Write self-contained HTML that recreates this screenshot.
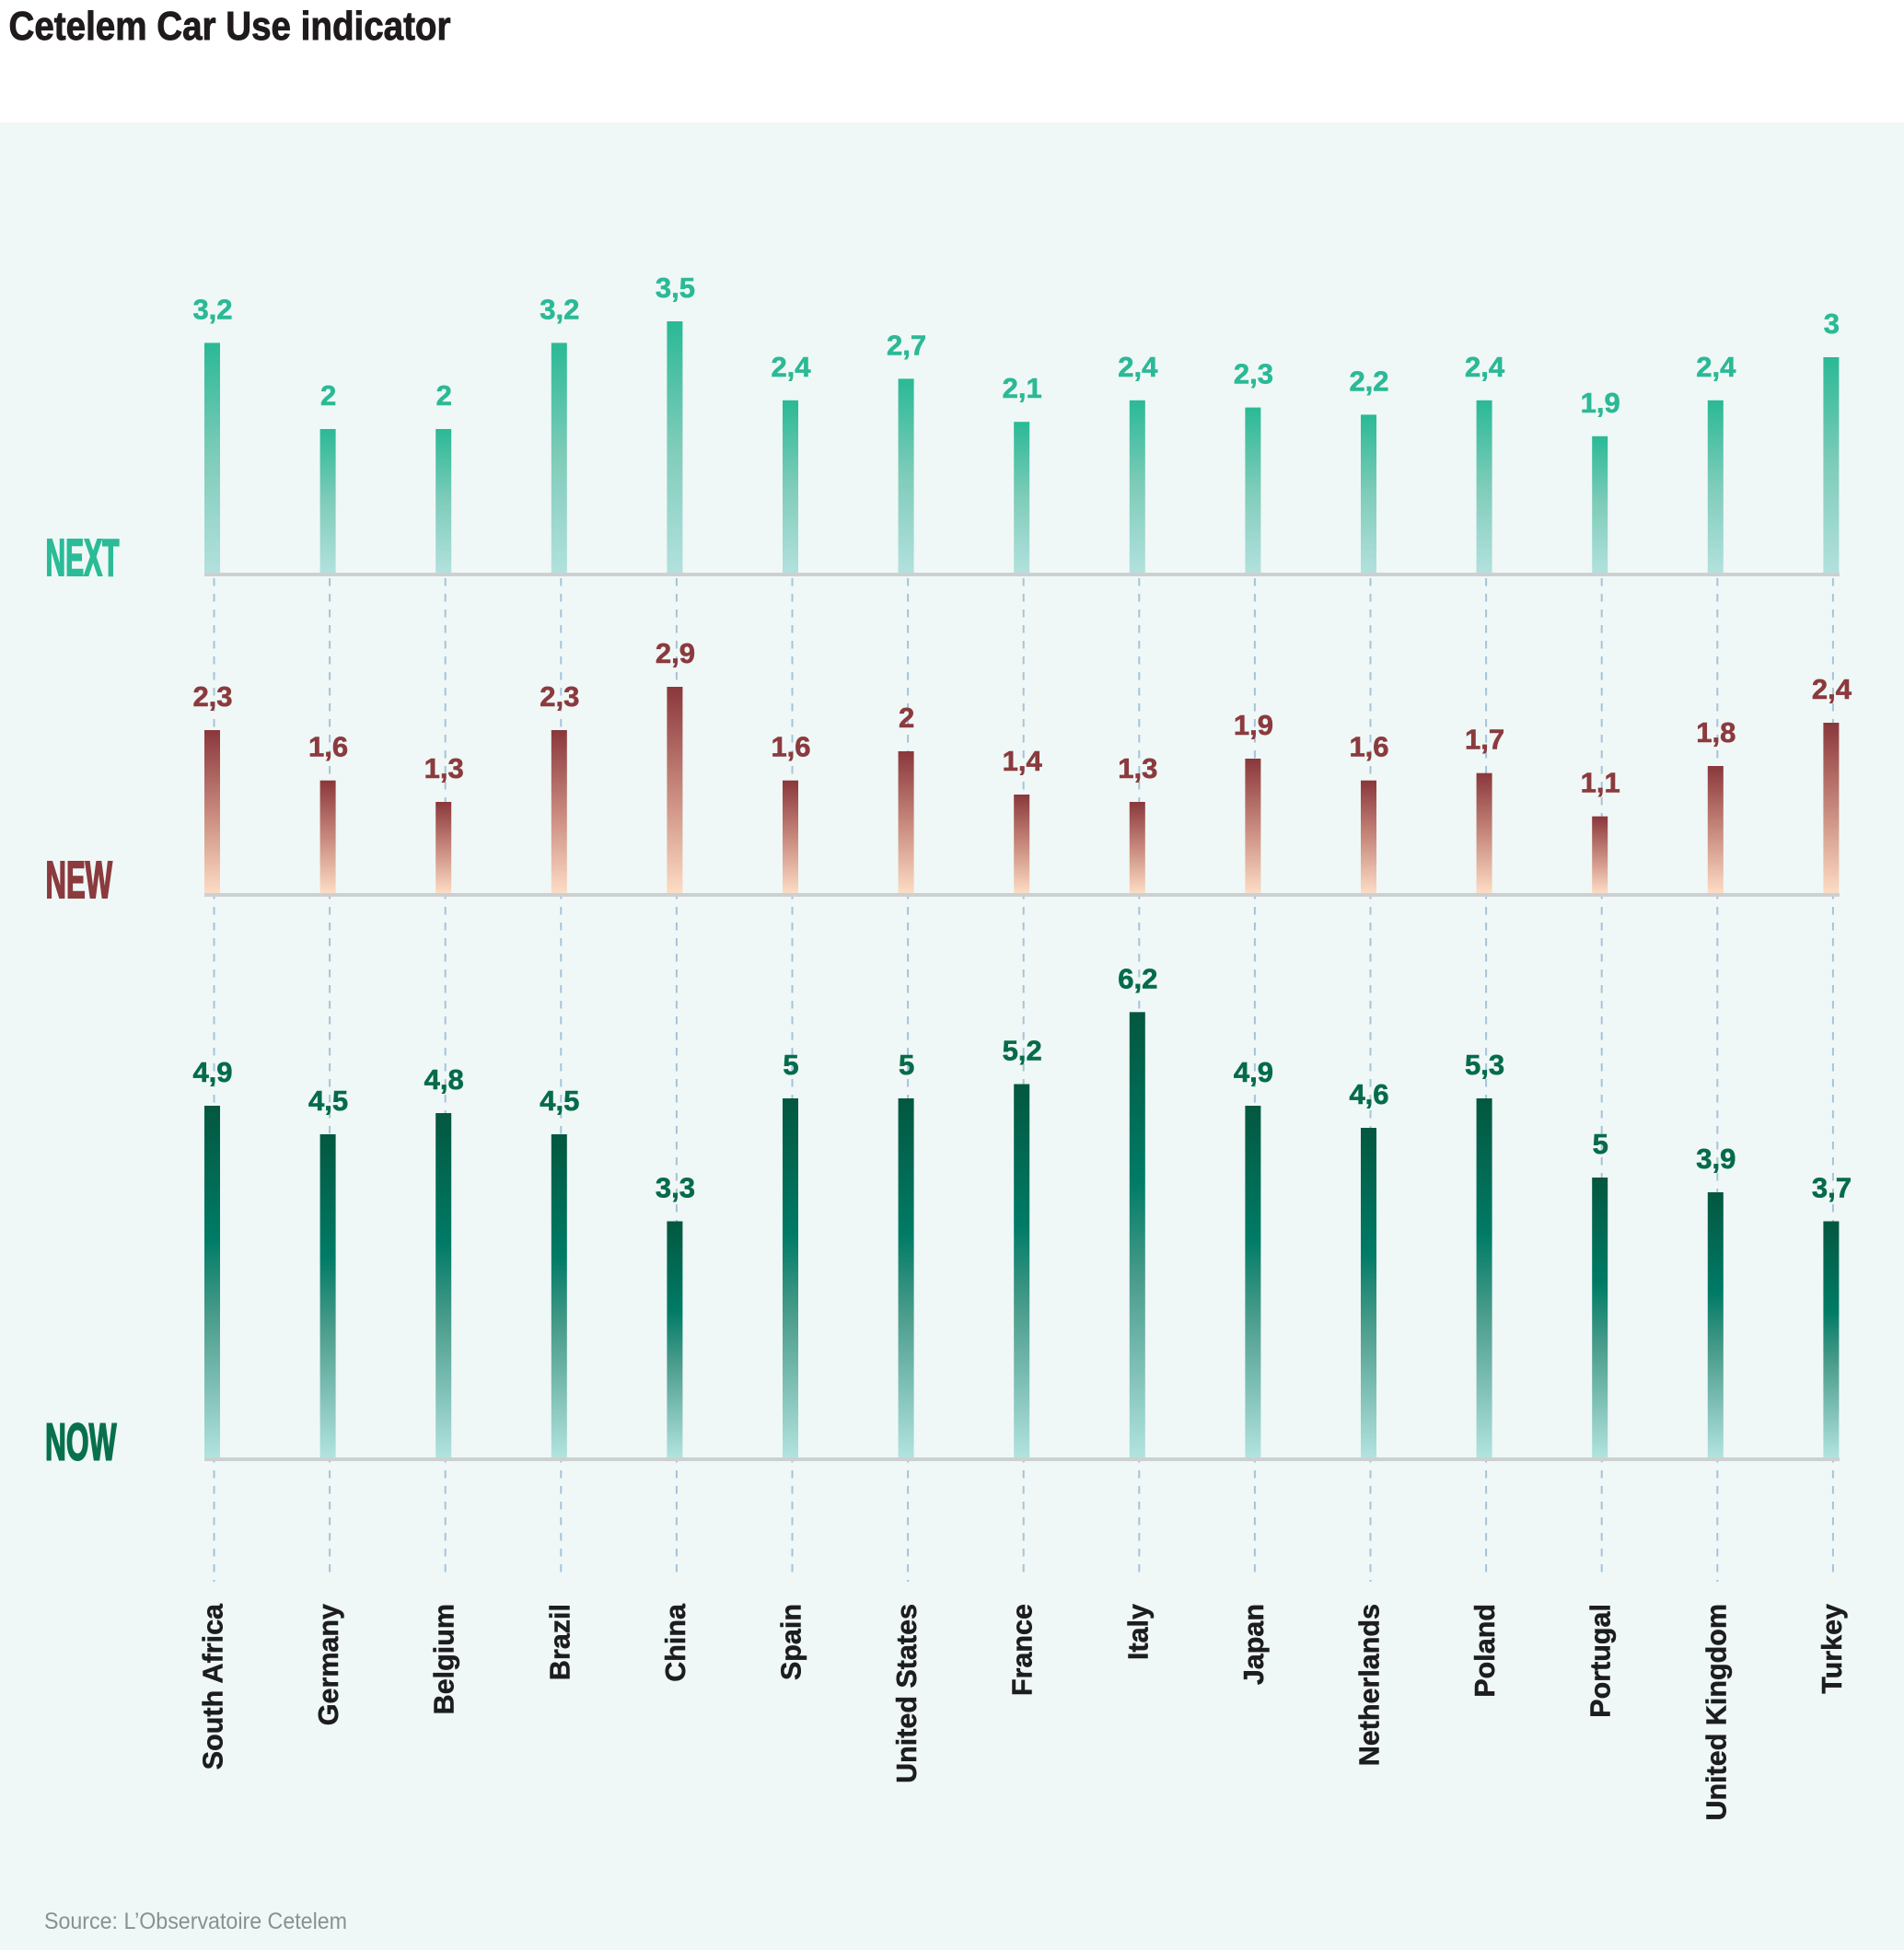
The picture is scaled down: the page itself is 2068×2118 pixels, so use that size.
<!DOCTYPE html>
<html>
<head>
<meta charset="utf-8">
<style>
  html, body { margin: 0; padding: 0; background: #ffffff; }
  svg { display: block; }
  text { font-family: "Liberation Sans", Arial, sans-serif; }
</style>
</head>
<body>
<svg width="2068" height="2118" viewBox="0 0 2068 2118" xmlns="http://www.w3.org/2000/svg">
  <defs>
    <linearGradient id="gNext" x1="0" y1="0" x2="0" y2="1">
      <stop offset="0" stop-color="#2ab995"/>
      <stop offset="0.5" stop-color="#7fccba"/>
      <stop offset="1" stop-color="#b2e1dd"/>
    </linearGradient>
    <linearGradient id="gNew" x1="0" y1="0" x2="0" y2="1">
      <stop offset="0" stop-color="#8a373b"/>
      <stop offset="0.5" stop-color="#c7887c"/>
      <stop offset="1" stop-color="#fddcc4"/>
    </linearGradient>
    <linearGradient id="gNow" x1="0" y1="0" x2="0" y2="1">
      <stop offset="0" stop-color="#03573f"/>
      <stop offset="0.38" stop-color="#007b66"/>
      <stop offset="0.6" stop-color="#4a9c8b"/>
      <stop offset="1" stop-color="#b2e3df"/>
    </linearGradient>
  </defs>

  <!-- background -->
  <rect x="0" y="0" width="2068" height="2118" fill="#ffffff"/>
  <rect x="0" y="133" width="2068" height="1985" fill="#eff8f6"/>

  <!-- title -->
  <text x="9.5" y="43" font-size="44" font-weight="bold" fill="#1f1b1d" stroke="#1f1b1d" stroke-width="0.9" textLength="480" lengthAdjust="spacingAndGlyphs">Cetelem Car Use indicator</text>

  <!-- dashed guide lines -->
  <g stroke="#a6c3da" stroke-width="2" stroke-dasharray="8.5 8.5" fill="none">
    <line x1="232.5" y1="628" x2="232.5" y2="1718"/>
    <line x1="358.1" y1="628" x2="358.1" y2="1710"/>
    <line x1="483.7" y1="628" x2="483.7" y2="1712"/>
    <line x1="609.3" y1="628" x2="609.3" y2="1712"/>
    <line x1="734.9" y1="628" x2="734.9" y2="1712"/>
    <line x1="860.5" y1="628" x2="860.5" y2="1712"/>
    <line x1="986.1" y1="628" x2="986.1" y2="1718"/>
    <line x1="1111.7" y1="628" x2="1111.7" y2="1712"/>
    <line x1="1237.3" y1="628" x2="1237.3" y2="1712"/>
    <line x1="1362.9" y1="628" x2="1362.9" y2="1712"/>
    <line x1="1488.5" y1="628" x2="1488.5" y2="1718"/>
    <line x1="1614.1" y1="628" x2="1614.1" y2="1712"/>
    <line x1="1739.7" y1="628" x2="1739.7" y2="1712"/>
    <line x1="1865.3" y1="628" x2="1865.3" y2="1718"/>
    <line x1="1990.9" y1="628" x2="1990.9" y2="1712"/>
  </g>

  <!-- NEXT bars -->
  <g fill="url(#gNext)">
    <rect x="222" y="372.4" width="17" height="249.6"/>
    <rect x="347.6" y="466" width="17" height="156"/>
    <rect x="473.2" y="466" width="17" height="156"/>
    <rect x="598.8" y="372.4" width="17" height="249.6"/>
    <rect x="724.4" y="349" width="17" height="273"/>
    <rect x="850" y="434.8" width="17" height="187.2"/>
    <rect x="975.6" y="411.4" width="17" height="210.6"/>
    <rect x="1101.2" y="458.2" width="17" height="163.8"/>
    <rect x="1226.8" y="434.8" width="17" height="187.2"/>
    <rect x="1352.4" y="442.6" width="17" height="179.4"/>
    <rect x="1478" y="450.4" width="17" height="171.6"/>
    <rect x="1603.6" y="434.8" width="17" height="187.2"/>
    <rect x="1729.2" y="473.8" width="17" height="148.2"/>
    <rect x="1854.8" y="434.8" width="17" height="187.2"/>
    <rect x="1980.4" y="388" width="17" height="234"/>
  </g>
  <g font-size="31" font-weight="bold" fill="#2bb996" stroke="#2bb996" stroke-width="0.6" text-anchor="middle">
    <text x="231" y="346.4">3,2</text>
    <text x="356.6" y="440">2</text>
    <text x="482.2" y="440">2</text>
    <text x="607.8" y="346.4">3,2</text>
    <text x="733.4" y="323">3,5</text>
    <text x="859" y="408.8">2,4</text>
    <text x="984.6" y="385.4">2,7</text>
    <text x="1110.2" y="432.2">2,1</text>
    <text x="1235.8" y="408.8">2,4</text>
    <text x="1361.4" y="416.6">2,3</text>
    <text x="1487" y="424.4">2,2</text>
    <text x="1612.6" y="408.8">2,4</text>
    <text x="1738.2" y="447.8">1,9</text>
    <text x="1863.8" y="408.8">2,4</text>
    <text x="1989.4" y="362">3</text>
  </g>

  <!-- NEW bars -->
  <g fill="url(#gNew)">
    <rect x="222" y="793" width="17" height="177"/>
    <rect x="347.6" y="847.7" width="17" height="122.3"/>
    <rect x="473.2" y="871" width="17" height="99"/>
    <rect x="598.8" y="793" width="17" height="177"/>
    <rect x="724.4" y="746" width="17" height="224"/>
    <rect x="850" y="847.7" width="17" height="122.3"/>
    <rect x="975.6" y="816" width="17" height="154"/>
    <rect x="1101.2" y="863" width="17" height="107"/>
    <rect x="1226.8" y="871" width="17" height="99"/>
    <rect x="1352.4" y="824" width="17" height="146"/>
    <rect x="1478" y="847.7" width="17" height="122.3"/>
    <rect x="1603.6" y="839.7" width="17" height="130.3"/>
    <rect x="1729.2" y="886.7" width="17" height="83.3"/>
    <rect x="1854.8" y="832" width="17" height="138"/>
    <rect x="1980.4" y="785" width="17" height="185"/>
  </g>
  <g font-size="31" font-weight="bold" fill="#8b3a3e" stroke="#8b3a3e" stroke-width="0.6" text-anchor="middle">
    <text x="231" y="767">2,3</text>
    <text x="356.6" y="821.7">1,6</text>
    <text x="482.2" y="845">1,3</text>
    <text x="607.8" y="767">2,3</text>
    <text x="733.4" y="720">2,9</text>
    <text x="859" y="821.7">1,6</text>
    <text x="984.6" y="790">2</text>
    <text x="1110.2" y="837">1,4</text>
    <text x="1235.8" y="845">1,3</text>
    <text x="1361.4" y="798">1,9</text>
    <text x="1487" y="821.7">1,6</text>
    <text x="1612.6" y="813.7">1,7</text>
    <text x="1738.2" y="860.7">1,1</text>
    <text x="1863.8" y="806">1,8</text>
    <text x="1989.4" y="759">2,4</text>
  </g>

  <!-- NOW bars -->
  <g fill="url(#gNow)">
    <rect x="222" y="1201" width="17" height="382"/>
    <rect x="347.6" y="1232" width="17" height="351"/>
    <rect x="473.2" y="1209" width="17" height="374"/>
    <rect x="598.8" y="1232" width="17" height="351"/>
    <rect x="724.4" y="1326.5" width="17" height="256.5"/>
    <rect x="850" y="1193" width="17" height="390"/>
    <rect x="975.6" y="1193" width="17" height="390"/>
    <rect x="1101.2" y="1177.5" width="17" height="405.5"/>
    <rect x="1226.8" y="1099.3" width="17" height="483.7"/>
    <rect x="1352.4" y="1201" width="17" height="382"/>
    <rect x="1478" y="1225" width="17" height="358"/>
    <rect x="1603.6" y="1193" width="17" height="390"/>
    <rect x="1729.2" y="1279" width="17" height="304"/>
    <rect x="1854.8" y="1295" width="17" height="288"/>
    <rect x="1980.4" y="1326.5" width="17" height="256.5"/>
  </g>
  <g font-size="31" font-weight="bold" fill="#056b4b" stroke="#056b4b" stroke-width="0.6" text-anchor="middle">
    <text x="231" y="1175">4,9</text>
    <text x="356.6" y="1206">4,5</text>
    <text x="482.2" y="1183">4,8</text>
    <text x="607.8" y="1206">4,5</text>
    <text x="733.4" y="1300.5">3,3</text>
    <text x="859" y="1167">5</text>
    <text x="984.6" y="1167">5</text>
    <text x="1110.2" y="1151.5">5,2</text>
    <text x="1235.8" y="1073.3">6,2</text>
    <text x="1361.4" y="1175">4,9</text>
    <text x="1487" y="1199">4,6</text>
    <text x="1612.6" y="1167">5,3</text>
    <text x="1738.2" y="1253">5</text>
    <text x="1863.8" y="1269">3,9</text>
    <text x="1989.4" y="1300.5">3,7</text>
  </g>

  <!-- baselines -->
  <g fill="#cdd0d1">
    <rect x="222" y="622" width="1776" height="4"/>
    <rect x="222" y="970" width="1776" height="4"/>
    <rect x="222" y="1583" width="1776" height="4"/>
  </g>

  <!-- section labels -->
  <text x="49.5" y="625" font-size="57" font-weight="bold" fill="#2bbb97" stroke="#2bbb97" stroke-width="2" stroke-linejoin="miter" textLength="80" lengthAdjust="spacingAndGlyphs">NEXT</text>
  <text x="49.5" y="975" font-size="57" font-weight="bold" fill="#8b3a3e" stroke="#8b3a3e" stroke-width="2" stroke-linejoin="miter" textLength="72.5" lengthAdjust="spacingAndGlyphs">NEW</text>
  <text x="49" y="1585.5" font-size="57" font-weight="bold" fill="#08704c" stroke="#08704c" stroke-width="2" stroke-linejoin="miter" textLength="77.5" lengthAdjust="spacingAndGlyphs">NOW</text>

  <!-- country labels -->
  <g font-size="30.5" font-weight="bold" fill="#1d1d1f" stroke="#1d1d1f" stroke-width="0.5" text-anchor="end">
    <text transform="translate(241.5,1742) rotate(-90)">South Africa</text>
    <text transform="translate(367.1,1742) rotate(-90)">Germany</text>
    <text transform="translate(492.7,1742) rotate(-90)">Belgium</text>
    <text transform="translate(618.3,1742) rotate(-90)">Brazil</text>
    <text transform="translate(743.9,1742) rotate(-90)">China</text>
    <text transform="translate(869.5,1742) rotate(-90)">Spain</text>
    <text transform="translate(995.1,1742) rotate(-90)">United States</text>
    <text transform="translate(1120.7,1742) rotate(-90)">France</text>
    <text transform="translate(1246.3,1742) rotate(-90)">Italy</text>
    <text transform="translate(1371.9,1742) rotate(-90)">Japan</text>
    <text transform="translate(1497.5,1742) rotate(-90)">Netherlands</text>
    <text transform="translate(1623.1,1742) rotate(-90)">Poland</text>
    <text transform="translate(1748.7,1742) rotate(-90)">Portugal</text>
    <text transform="translate(1874.3,1742) rotate(-90)">United Kingdom</text>
    <text transform="translate(1999.9,1742) rotate(-90)">Turkey</text>
  </g>

  <!-- source -->
  <text x="48" y="2095" font-size="25" fill="#8b9093" textLength="329" lengthAdjust="spacingAndGlyphs">Source: L’Observatoire Cetelem</text>
</svg>
</body>
</html>
